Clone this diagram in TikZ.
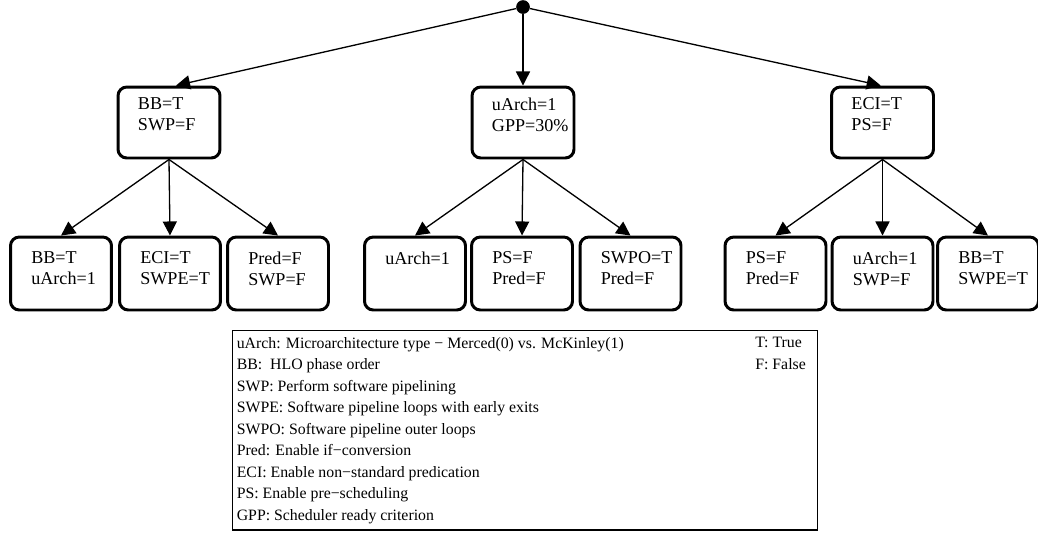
\documentclass[tikz,border=0pt]{standalone}
\usepackage{fontspec}
\setmainfont{Liberation Serif}
\usetikzlibrary{positioning, arrows.meta}

\begin{document}
\begin{tikzpicture}[x=0.02cm, y=-0.02cm,
  every node/.style={font=\fontsize{10.3}{11.9}\selectfont},
  box/.style={rectangle, draw, line width=1.7pt, rounded corners=5pt, minimum width=2.02cm, minimum height=1.46cm, inner sep=0pt},
  mbox/.style={box, minimum width=2.04cm, minimum height=1.42cm},
  txt/.style={align=left, inner sep=0pt},
  legtxt/.style={txt, font=\fontsize{9}{12.2}\selectfont},
  link/.style={-{Triangle[length=8pt,width=8pt]}, line width=0.75pt}]
  \useasboundingbox (0,0) rectangle (1038,535);

  % root
  \node[circle, fill, inner sep=0pt, minimum size=7.8pt] (root) at (523,7) {};

  % second level
  \node[mbox] (bb) at (169,122.5) {};
  \node[mbox] (ua) at (523,122.5) {};
  \node[mbox] (eci) at (882.5,122.5) {};
  \node[txt, below right=6.7pt and 12pt of bb.north west] (bbt) {BB=T\\SWP=F};
  \node[txt, below right=6.7pt and 12pt of ua.north west] (uat) {uArch=1\\GPP=30\%};
  \node[txt, below right=6.7pt and 12pt of eci.north west] (ecit) {ECI=T\\PS=F};

  % third level
  \node[box] (b1) at (61,273.5) {};
  \node[box] (b2) at (170,273.5) {};
  \node[box] (b3) at (278,273.5) {};
  \node[box] (u1) at (415,273.5) {};
  \node[box] (u2) at (522,273.5) {};
  \node[box] (u3) at (630.5,273.5) {};
  \node[box] (e1) at (775.5,273.5) {};
  \node[box] (e2) at (882.5,273.5) {};
  \node[box] (e3) at (988,273.5) {};
  \node[txt, below right=9pt and 12.5pt of b1.north west] (b1t) {BB=T\\uArch=1};
  \node[txt, below right=9pt and 12.5pt of b2.north west] (b2t) {ECI=T\\SWPE=T};
  \node[txt, below right=9pt and 12.5pt of b3.north west] (b3t) {Pred=F\\SWP=F};
  \node[txt, below right=9pt and 12.5pt of u1.north west] (u1t) {uArch=1};
  \node[txt, below right=9pt and 12.5pt of u2.north west] (u2t) {PS=F\\Pred=F};
  \node[txt, below right=9pt and 12.5pt of u3.north west] (u3t) {SWPO=T\\Pred=F};
  \node[txt, below right=9pt and 12.5pt of e1.north west] (e1t) {PS=F\\Pred=F};
  \node[txt, below right=9pt and 12.5pt of e2.north west] (e2t) {uArch=1\\SWP=F};
  \node[txt, below right=9pt and 12.5pt of e3.north west] (e3t) {BB=T\\SWPE=T};

  \draw[link] (root) -- ([xshift=4pt]bb.north);
  \draw[link] (root) -- (ua.north);
  \draw[link] (root) -- ([xshift=-1pt]eci.north);
  \draw[link] (bb.south) -- (b1.north);
  \draw[link] (bb.south) -- (b2.north);
  \draw[link] (bb.south) -- (b3.north);
  \draw[link] (ua.south) -- (u1.north);
  \draw[link] (ua.south) -- (u2.north);
  \draw[link] (ua.south) -- (u3.north);
  \draw[link] (eci.south) -- (e1.north);
  \draw[link] (eci.south) -- (e2.north);
  \draw[link] (eci.south) -- (e3.north);

  % legend
  \node[draw, line width=0.6pt, minimum width=11.72cm, minimum height=4cm, inner sep=0pt] (leg) at (525,430) {};
  \node[legtxt, below right=4.4pt and 2.8pt of leg.north west] (legl) {uArch: Microarchitecture type − Merced(0) vs. McKinley(1)\\
    BB:\ \ HLO phase order\\
    SWP: Perform software pipelining\\
    SWPE: Software pipeline loops with early exits\\
    SWPO: Software pipeline outer loops\\
    Pred: Enable if−conversion\\
    ECI: Enable non−standard predication\\
    PS: Enable pre−scheduling\\
    GPP: Scheduler ready criterion};
  \node[legtxt, below left=4.4pt and 7pt of leg.north east] (legr) {T: True\\F: False};
\end{tikzpicture}
\end{document}
